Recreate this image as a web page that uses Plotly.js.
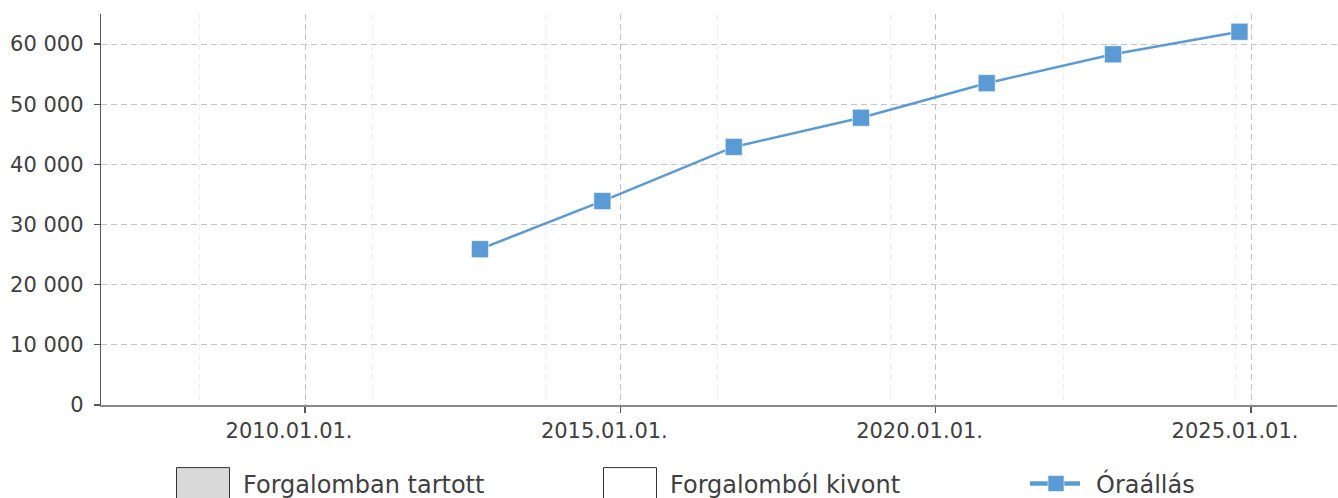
<!DOCTYPE html>
<html>
<head>
<meta charset="utf-8">
<script src="https://cdn.plot.ly/plotly-3.0.1.min.js"></script>
<style>
html,body{margin:0;padding:0;background:#fff;}
#chart{width:1338px;height:498px;}
</style>
</head>
<body>
<div id="chart"></div>
<script>
// Dates of the readings
var dates = ['2012-10-10','2014-09-19','2016-10-19','2018-10-26','2020-10-23','2022-10-25','2024-10-26'];
// Odometer reading (Óraállás)
var oraallas = [25900, 33900, 42900, 47750, 53500, 58300, 62050];
// Bar series (no visible values in the picture)
var forgalombanTartott = [null, null, null, null, null, null, null];
var forgalombolKivont = [null, null, null, null, null, null, null];
// Series names
var seriesNames = ['Forgalomban tartott', 'Forgalomból kivont', 'Óraállás'];
// Axis ranges / ticks
var xRange = ['2006-10-07', '2026-05-14'];
var yRange = [0, 65000];
var xTick0 = '2010-01-01';
var yTickVals = [0, 10000, 20000, 30000, 40000, 50000, 60000];

var txt = '#404040';
var font = 'DejaVu Sans, Verdana, sans-serif';

var traces = [
  {type:'bar', x:dates, y:forgalombanTartott, name:seriesNames[0], legend:'legend',
   marker:{color:'#d9d9d9', line:{color:'#333333', width:1}}},
  {type:'bar', x:dates, y:forgalombolKivont, name:seriesNames[1], legend:'legend2',
   marker:{color:'#ffffff', line:{color:'#333333', width:1}}},
  {type:'scatter', mode:'lines+markers', x:dates, y:oraallas, name:seriesNames[2], legend:'legend3',
   line:{color:'#5b9bd5', width:2.5},
   marker:{symbol:'square', size:17, color:'#5b9bd5', line:{color:'rgba(255,255,255,0.55)', width:1}}}
];

function legendAt(xpx){
  return {orientation:'h', xref:'container', yref:'container', x:xpx/1338, y:1-484/498, xanchor:'left', yanchor:'middle',
          font:{size:24, color:txt, family:font}, itemwidth:70, bgcolor:'rgba(0,0,0,0)', borderwidth:0};
}

var layout = {
  width:1338, height:498,
  margin:{l:101, r:1, t:14, b:93, pad:0},
  paper_bgcolor:'#fff', plot_bgcolor:'#fff',
  separators:', ',
  font:{family:font, color:txt},
  showlegend:true,
  barmode:'group',
  legend:legendAt(163),
  legend2:legendAt(590),
  legend3:legendAt(1016),
  xaxis:{type:'date', range:xRange, tickmode:'linear', tick0:xTick0, dtick:'M60', tickformat:'%Y.%m.%d.',
         showgrid:true, gridcolor:'#c4c4c4', griddash:'6px,4px', gridwidth:1,
         showline:true, linecolor:'#8a8a8a', linewidth:1.5,
         ticks:'outside', ticklen:6, tickcolor:'#555', tickwidth:1.2,
         ticklabelshift:-16, tickfont:{size:21, color:txt, family:font}, zeroline:false,
         minor:{tickmode:'linear', tick0:'2008-05-02', dtick:86400000000, showgrid:true, gridcolor:'#eeeeee', griddash:'6px,4px', gridwidth:1, ticks:''}},
  yaxis:{range:yRange, tickmode:'array', tickvals:yTickVals, tickformat:',d',
         showgrid:true, gridcolor:'#c4c4c4', griddash:'6px,4px', gridwidth:1,
         showline:true, linecolor:'#555', linewidth:1.3, zeroline:false,
         ticks:'outside', ticklen:6, tickcolor:'#555', tickwidth:1.2,
         ticklabelstandoff:6, tickfont:{size:21, color:txt, family:font}}
};

Plotly.newPlot('chart', traces, layout, {displayModeBar:false, staticPlot:true}).then(function(gd){
  var items = gd.querySelectorAll('.infolayer .traces');
  items.forEach(function(it){
    var l = it.querySelector('.legendlines path');
    if(l){
      l.setAttribute('d','M14,0h50'); l.style.strokeWidth='4.5px';
      it.querySelectorAll('.legendpoints path').forEach(function(pp){ pp.setAttribute('d','M8,8H-8V-8H8Z'); });
    } else {
      it.querySelectorAll('.legendpoints path').forEach(function(pp){ pp.setAttribute('d','M26.5,16H-26.5V-16H26.5Z'); pp.style.strokeWidth='1px'; });
    }
  });
});
</script>
</body>
</html>
